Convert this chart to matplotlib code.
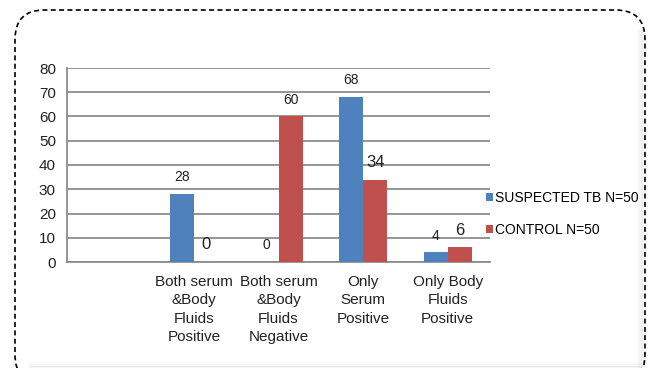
import matplotlib.pyplot as plt
import numpy as np
from matplotlib.patches import FancyBboxPatch

plt.rcParams['font.family'] = ['Liberation Sans', 'DejaVu Sans']

categories = ['', 'Both serum\n&Body\nFluids\nPositive', 'Both serum\n&Body\nFluids\nNegative',
              'Only\nSerum\nPositive', 'Only Body\nFluids\nPositive']
suspected = [None, 28, 0, 68, 4]
control = [None, 0, 60, 34, 6]
series_names = ['SUSPECTED TB N=50', 'CONTROL N=50']
yticks = [0, 10, 20, 30, 40, 50, 60, 70, 80]

# label sizes copy the uneven text of the original
suspected_label_size = [10, 10, 10, 10, 10]
control_label_size = [12, 12, 10, 12, 12]

blue = '#4f81bd'
red = '#c0504d'

fig = plt.figure(figsize=(6.52, 3.68), dpi=100)

# dashed rounded frame round the chart, its bottom runs off the picture
W, H = 652, 368
frame = FancyBboxPatch((15 / W, -16 / H), 630 / W, (368 - 10 + 16) / H,
                       boxstyle='round,pad=0,rounding_size=0.045',
                       transform=fig.transFigure, facecolor='white',
                       edgecolor='black', linestyle=(0, (3, 2)), linewidth=1.2,
                       mutation_aspect=W / H, zorder=-2)
fig.patches.append(frame)
# faint inner shadow on the right and at the bottom
for i, a in enumerate([0.05, 0.03, 0.015]):
    fig.add_artist(plt.Line2D([(642 - i * 2) / W] * 2, [1 - 30 / H, 0], transform=fig.transFigure,
                              color='black', alpha=a, linewidth=2, zorder=-1))
    fig.add_artist(plt.Line2D([30 / W, 640 / W], [(1 + i * 2) / H] * 2, transform=fig.transFigure,
                              color='black', alpha=a, linewidth=2, zorder=-1))

ax = fig.add_axes([67 / W, 1 - 262 / H, 423 / W, 194 / H])
ax.set_facecolor('none')

x = np.arange(len(categories))
w = 0.284
sus_x = [xi - w / 2 for xi, v in zip(x, suspected) if v is not None]
con_x = [xi + w / 2 for xi, v in zip(x, control) if v is not None]
b1 = ax.bar(sus_x, [v for v in suspected if v is not None], w, color=blue, label=series_names[0], zorder=3)
b2 = ax.bar(con_x, [v for v in control if v is not None], w, color=red, label=series_names[1], zorder=3)

sizes1 = [s for s, v in zip(suspected_label_size, suspected) if v is not None]
sizes2 = [s for s, v in zip(control_label_size, control) if v is not None]
for bars, sizes in ((b1, sizes1), (b2, sizes2)):
    for rect, fs in zip(bars, sizes):
        h = rect.get_height()
        ax.annotate(f'{h:g}', (rect.get_x() + rect.get_width() / 2, h),
                    xytext=(0, 7), textcoords='offset points',
                    ha='center', va='bottom', fontsize=fs, color='#222222')

ax.set_xlim(-0.5, len(categories) - 0.5)
ax.set_ylim(0, 80)
ax.set_yticks(yticks)
ax.set_xticks(x)
ax.set_xticklabels(categories, fontsize=11, linespacing=1.38)
ax.tick_params(axis='both', length=0, colors='#222222')
ax.tick_params(axis='y', labelsize=11, pad=8)
ax.tick_params(axis='x', pad=9.5)
ax.grid(axis='y', color='#8c8c8c', linewidth=1.3, zorder=0)
for s in ('top', 'right'):
    ax.spines[s].set_visible(False)
for s in ('left', 'bottom'):
    ax.spines[s].set_color('#8c8c8c')
    ax.spines[s].set_linewidth(1.3)

fig.legend(handles=[b1, b2], labels=series_names, loc='center left',
           bbox_to_anchor=(479 / W, 1 - 214 / H), frameon=False, fontsize=10,
           handlelength=0.5, handleheight=0.5, handletextpad=0.15, labelspacing=1.35,
           borderpad=0)

fig.savefig('out.png', dpi=100)
